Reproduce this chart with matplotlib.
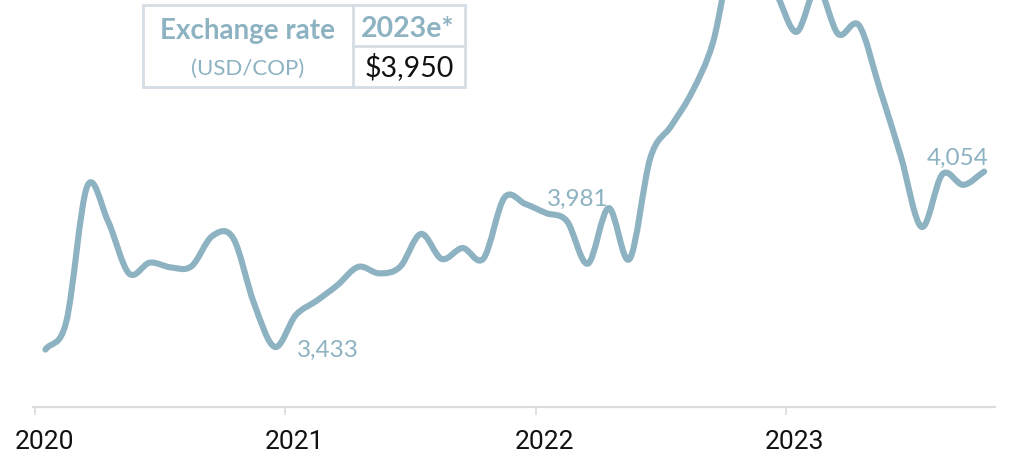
import matplotlib
matplotlib.use("Agg")
import matplotlib.pyplot as plt
import matplotlib.transforms as mtransforms
import numpy as np
from matplotlib.path import Path
from matplotlib.patches import PathPatch, Rectangle
from matplotlib.lines import Line2D

# ---------------- data ----------------
years = [2020, 2021, 2022, 2023]
tick_labels = ["2020", "2021", "2022", "2023"]
# month-end USD/COP, Jan 2020 .. Oct 2023
rate_2020 = [3423, 3530, 4048, 3915, 3715, 3756, 3738, 3742, 3858, 3850, 3600, 3433]
rate_2021 = [3555, 3610, 3670, 3740, 3715, 3740, 3866, 3770, 3812, 3772, 4005, 3981]
rate_2022 = [3946, 3915, 3752, 3965, 3770, 4158, 4280, 4410, 4600, 4950, 4870, 4790]
rate_2023 = [4640, 4810, 4632, 4665, 4421, 4165, 3893, 4095, 4054, 4105]
annotated = [("3,433", 11), ("3,981", 23), ("4,054", 44)]
table_header = ["Exchange rate", "2023e*"]
table_sub = ["(USD/COP)", "$3,950"]

values = np.array(rate_2020 + rate_2021 + rate_2022 + rate_2023, dtype=float)
dates = np.array([2020 + (i + 0.5) / 12 for i in range(len(values))])

LINE = "#8db2c1"
BORDER = "#d5dde5"

W, H = 1010, 452
fig = plt.figure(figsize=(W / 100, H / 100), dpi=100)
ax = fig.add_axes([33 / W, 44 / H, (995 - 33) / W, (H - 44) / H])
ax.set_xlim(2020 - 2 / 250.33, 2020 + 960 / 250.33)
ax.set_ylim(3203, 4766)


def catmull_bezier(x, y):
    n = len(x)
    h = np.diff(x)
    t = np.zeros(n)
    for i in range(1, n - 1):
        t[i] = (y[i + 1] - y[i - 1]) / (x[i + 1] - x[i - 1])
    t[0] = (y[1] - y[0]) / h[0]
    t[-1] = (y[-1] - y[-2]) / h[-1]
    verts = [(x[0], y[0])]
    codes = [Path.MOVETO]
    for i in range(n - 1):
        d = h[i] / 3
        verts += [(x[i] + d, y[i] + t[i] * d),
                  (x[i + 1] - d, y[i + 1] - t[i + 1] * d),
                  (x[i + 1], y[i + 1])]
        codes += [Path.CURVE4] * 3
    return Path(verts, codes)


patch = PathPatch(catmull_bezier(dates, values), facecolor="none",
                  edgecolor=LINE, lw=4.4, capstyle="round", joinstyle="round")
ax.add_patch(patch)

for spine in ["top", "right", "left"]:
    ax.spines[spine].set_visible(False)
ax.spines["bottom"].set_color("#dcdcdc")
ax.spines["bottom"].set_linewidth(1.6)
ax.set_yticks([])
ax.set_xticks(years)
ax.set_xticklabels(tick_labels, fontsize=19, family="Roboto", color="#111111")
ax.tick_params(axis="x", length=5.5, width=1.2, color="#dcdcdc", pad=10)
shift = mtransforms.ScaledTranslation(9 / 100, 0, fig.dpi_scale_trans)
for lab in ax.get_xticklabels():
    lab.set_transform(lab.get_transform() + shift)
ax.patch.set_alpha(0)

offsets = {11: (22, -9, "left"), 23: (22, -1, "left"), 44: (-6, 21, "center")}
for text, idx in annotated:
    dx, dy, ha = offsets[idx]
    ax.annotate(text, (dates[idx], values[idx]), xytext=(dx, dy),
                textcoords="offset pixels", ha=ha, va="baseline",
                fontsize=17.5, family="Lato", color=LINE)

# ---------------- table ----------------
def fx(px):
    return px / W


def fy(py):
    return 1 - py / H


lw_b = 2.0
fig.add_artist(Rectangle((fx(143), fy(88)), fx(465) - fx(143), fy(6) - fy(88),
                         transform=fig.transFigure, facecolor="white",
                         edgecolor=BORDER, lw=lw_b, zorder=5))
fig.add_artist(Line2D([fx(353), fx(353)], [fy(6), fy(88)], transform=fig.transFigure,
                      color=BORDER, lw=lw_b, zorder=6))
fig.add_artist(Line2D([fx(353), fx(465)], [fy(47), fy(47)], transform=fig.transFigure,
                      color=BORDER, lw=lw_b, zorder=6))

fig.text(fx(248), fy(39), table_header[0], ha="center", va="baseline",
         fontsize=20, family="Lato", fontweight="bold", color=LINE, zorder=7)
fig.text(fx(248), fy(75), table_sub[0], ha="center", va="baseline",
         fontsize=16, family="Lato", color=LINE, zorder=7)
fig.text(fx(408), fy(37), table_header[1], ha="center", va="baseline",
         fontsize=20.5, family="Lato", fontweight="bold", color=LINE, zorder=7)
fig.text(fx(409), fy(76), table_sub[1], ha="center", va="baseline",
         fontsize=20.5, family="Lato", color="#111111", zorder=7)

fig.savefig("out.png", dpi=100, facecolor="white")
